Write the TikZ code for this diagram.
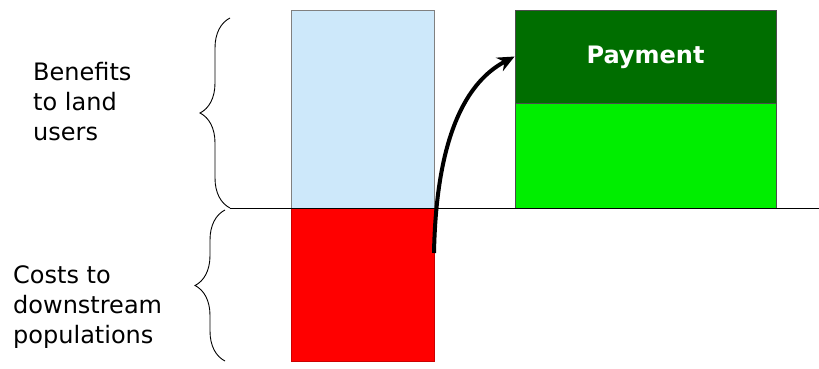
\documentclass[tikz,border=0pt]{standalone}
\usepackage{fontspec}
\setmainfont{DejaVu Sans}
\usepackage{tikz}
\usetikzlibrary{arrows.meta,positioning,decorations.pathreplacing}
\definecolor{skyc}{HTML}{CDE8FA}
\definecolor{lossc}{HTML}{FF0000}
\definecolor{payc}{HTML}{006E00}
\definecolor{gainc}{HTML}{00EE00}
\tikzset{
  bar/.style={draw,line width=0.8pt,inner sep=0pt,minimum width=143pt},
  lbl/.style={anchor=west,align=left,inner sep=0pt,font=\fontsize{24}{30}\selectfont},
  brc/.style={decorate,decoration={brace,amplitude=30pt},line width=0.9pt},
  ar/.style={-{Stealth[length=17pt,width=15pt]},line width=4pt}
}
\begin{document}
\begin{tikzpicture}[x=1pt,y=-1pt]
\useasboundingbox (0,0) rectangle (819,369);
% bars
\node[bar,draw=gray,fill=skyc,minimum height=198pt] (land) at (362.5,109) {};
\node[bar,draw=lossc!80!black,fill=lossc,minimum height=153pt] (cost) at (362.5,284.5) {};
\node[bar,draw=black!70,fill=gainc,minimum width=261pt,minimum height=105pt] (gain) at (645.5,155.5) {};
\node[bar,draw=black!70,fill=payc,minimum width=261pt,minimum height=93pt,
  text depth=4pt,font=\bfseries\fontsize{24}{30}\selectfont,text=white] (pay) at (645.5,56.5) {Payment};
% axis
\coordinate (mid) at (230,208);
\coordinate (axend) at (819,208);
\draw[line width=0.8pt] (mid) -- (axend);
% braces
\coordinate (btop) at (230,18);
\coordinate (cbot) at (225,361);
\coordinate (ctop) at (225,210);
\draw[brc] (mid) -- (btop);
\draw[brc] (cbot) -- (ctop);
% labels
\node[lbl] (benefits) at (33,102) {Benefits\\to land\\users};
\node[lbl] (costs) at (13,307) {Costs to\\downstream\\populations};
% transfer
\coordinate (src) at (434,253);
\draw[ar] (src) .. controls (436,150) and (460,85) .. (pay.west);
\end{tikzpicture}
\end{document}
